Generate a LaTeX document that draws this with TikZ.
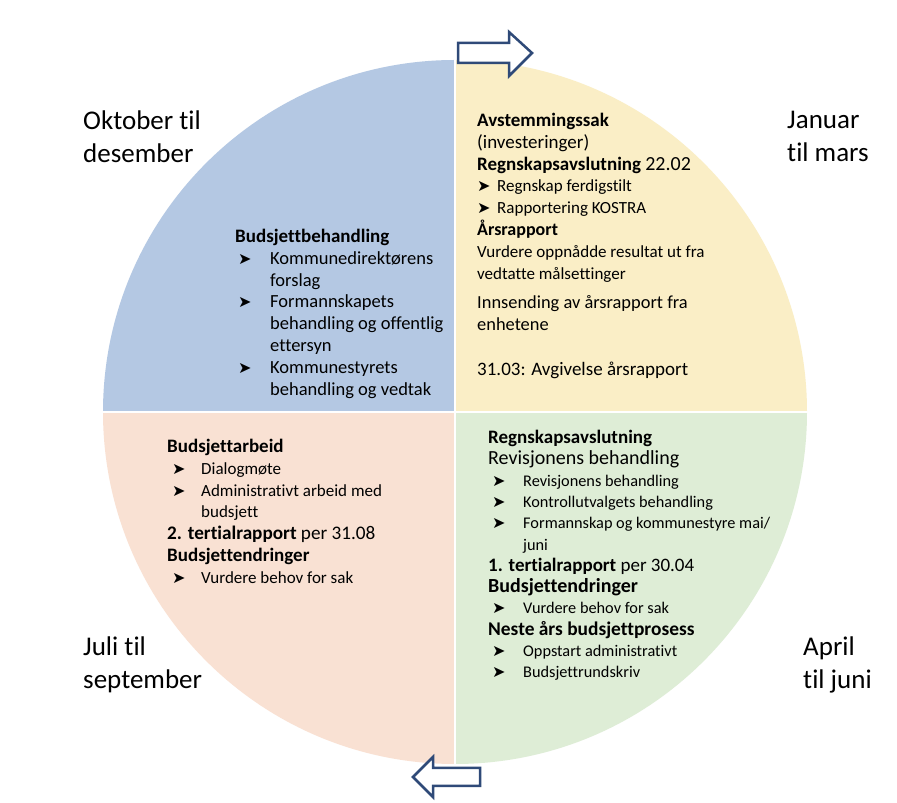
\documentclass[tikz,border=0pt]{standalone}
\usepackage{fontspec}
\setmainfont{Carlito}[Ligatures=NoCommon]
\newfontfamily\symfont{DejaVu Sans}
\usepackage{tikz}
\usetikzlibrary{positioning}
\definecolor{qblue}{HTML}{B4C8E3}
\definecolor{qyellow}{HTML}{FAEEC6}
\definecolor{qpink}{HTML}{F9E1D3}
\definecolor{qgreen}{HTML}{DEEDD6}
\definecolor{arrowblue}{HTML}{2F4A78}
% line spacing, and font size with it
\newcommand{\blskip}{21.8}
\newcommand{\fs}[1]{\fontsize{#1}{\blskip}\selectfont}
% bullet arrow: lead-in, then box up to the item text
\newcommand{\pil}[2]{\hspace*{#1}\makebox[#2][l]{\symfont\fs{16}➤}}

\begin{document}
\begin{tikzpicture}[
  x=1pt, y=1pt,
  season/.style={anchor=north west, inner sep=0pt, align=left, font=\fontsize{27}{33}\selectfont},
  block/.style={anchor=north west, inner sep=0pt, align=left, font=\fs{18}},
  turn/.style={draw=arrowblue, line width=2.5pt, fill=white, line join=miter}
]
  \useasboundingbox[fill=white] (0,0) rectangle (897,803);

  % circle in four quarters
  \coordinate (c) at (455,391);
  \fill[qyellow] (c) -- ++(0,352) arc (90:0:352) -- cycle;
  \fill[qgreen] (c) -- ++(352,0) arc (0:-90:352) -- cycle;
  \fill[qpink] (c) -- ++(0,-352) arc (270:180:352) -- cycle;
  \fill[qblue] (c) -- ++(-352,0) arc (180:90:352) -- cycle;
  \draw[white, line width=2.5pt] (455,38) -- (455,744);
  \draw[white, line width=2.5pt] (102,391) -- (808,391);

  % turning arrows
  \draw[turn] (458,760) -- (509,760) -- (509,771) -- (532,750) -- (509,727) -- (509,740) -- (458,740) -- cycle;
  \draw[turn] (480,35) -- (433,35) -- (433,46) -- (413,26) -- (433,6) -- (433,17) -- (480,17) -- cycle;

  % seasons
  \node[season] (oktdes) at (83,692) {Oktober til\\desember};
  \node[season] (janmar) at (787,692) {Januar\\til mars};
  \node[season] (julsep) at (83,166.5) {Juli til\\september};
  \node[season] (aprjun) at (803,166.5) {April\\til juni};

  % oktober til desember
  \node[block, font=\fs{18.5}] (budbeh) at (235,574) {%
    {\fs{19}\textbf{Budsjettbehandling}}\\
    \pil{3pt}{32pt}Kommunedirektørens\\
    \hspace*{35pt}forslag\\
    \pil{3pt}{32pt}Formannskapets\\
    \hspace*{35pt}behandling og offentlig\\
    \hspace*{35pt}ettersyn\\
    \pil{3pt}{32pt}Kommunestyrets\\
    \hspace*{35pt}behandling og vedtak};

  % januar til mars
  \node[block] (avst) at (477,690) {%
    {\fs{19}\textbf{Avstemmingssak}}\\
    {\fs{19}(investeringer)}\\
    {\fs{19}\textbf{Regnskapsavslutning} \fs{20}22.02}\\
    {\fs{17}\pil{0pt}{20pt}Regnskap ferdigstilt}\\
    {\fs{17}\pil{0pt}{20pt}Rapportering KOSTRA}\\
    {\fs{18}\textbf{Årsrapport}}\\
    {\fs{17}Vurdere oppnådde resultat ut fra}\\
    {\fs{17}vedtatte målsettinger}\\[8pt]
    {\fs{18.4}Innsending av årsrapport fra}\\
    {\fs{18.4}enhetene}\\[23pt]
    {\fs{19}31.03: Avgivelse årsrapport}};

  % juli til september
  \node[block] (budarb) at (167,364) {%
    {\fs{19}\textbf{Budsjettarbeid}}\\
    {\fs{17}\pil{5pt}{29pt}Dialogmøte}\\
    {\fs{17}\pil{5pt}{29pt}Administrativt arbeid med}\\
    {\fs{17}\hspace*{34pt}budsjett}\\
    {\fs{19.2}\textbf{2. tertialrapport} per 31.08}\\
    {\fs{19}\textbf{Budsjettendringer}}\\
    {\fs{17}\pil{5pt}{29pt}Vurdere behov for sak}};

  % april til juni
  \node[block, font={\renewcommand{\blskip}{21.3}\fs{18}}] (regnsk) at (488,373) {%
    {\fs{19}\textbf{Regnskapsavslutning}}\\
    {\fs{20}Revisjonens behandling}\\
    {\fs{16.3}\pil{4pt}{31pt}Revisjonens behandling}\\
    {\fs{16.3}\pil{4pt}{31pt}Kontrollutvalgets behandling}\\
    {\fs{16.3}\pil{4pt}{31pt}Formannskap og kommunestyre mai/}\\
    {\fs{16.3}\hspace*{35pt}juni}\\
    {\fs{19}\textbf{1. tertialrapport} per 30.04}\\
    {\fs{20}\textbf{Budsjettendringer}}\\
    {\fs{16.3}\pil{4pt}{31pt}Vurdere behov for sak}\\
    {\fs{19.4}\textbf{Neste års budsjettprosess}}\\
    {\fs{16.3}\pil{4pt}{31pt}Oppstart administrativt}\\
    {\fs{16.3}\pil{4pt}{31pt}Budsjettrundskriv}};
\end{tikzpicture}
\end{document}
